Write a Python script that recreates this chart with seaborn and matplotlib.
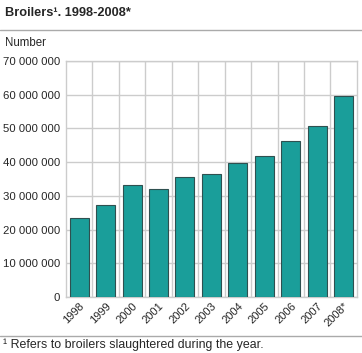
import matplotlib
matplotlib.use("Agg")
import matplotlib.pyplot as plt
import seaborn as sns
import pandas as pd
import numpy as np
from matplotlib.ticker import FuncFormatter, MultipleLocator

# data
years = ["1998", "1999", "2000", "2001", "2002", "2003", "2004", "2005", "2006", "2007", "2008*"]
broilers = [23.4, 27.4, 33.2, 31.9, 35.6, 36.6, 39.8, 41.8, 46.4, 50.7, 59.6]  # millions

df = pd.DataFrame({"year": years, "value": [v * 1e6 for v in broilers]})

sns.set_style("white")
plt.rcParams["font.family"] = ["Liberation Sans", "DejaVu Sans"]

fig = plt.figure(figsize=(3.62, 3.53), dpi=100)
ax = fig.add_axes([0.182, 0.159, 0.804, 0.668])

sns.barplot(data=df, x="year", y="value", color="#1a9e9a", saturation=1,
            edgecolor="#2f5050", linewidth=0.8, width=0.72, ax=ax, zorder=3)

ax.set_ylim(0, 70e6)
ax.set_xlim(-0.5, len(years) - 0.5)
ax.yaxis.set_major_locator(MultipleLocator(10e6))
ax.yaxis.set_major_formatter(FuncFormatter(lambda v, p: f"{int(v):,}".replace(",", " ")))
ax.set_xticks(range(len(years)))
ax.set_xticklabels(years, rotation=45, ha="right", rotation_mode="anchor", fontsize=8)
ax.tick_params(axis="y", labelsize=8.2, length=0, pad=4)
ax.tick_params(axis="x", length=0, pad=3)
ax.set_xticks(np.arange(0.5, len(years) - 0.5, 1), minor=True)
ax.grid(axis="y", which="major", color="#cccccc", linewidth=1, zorder=0)
ax.grid(axis="x", which="minor", color="#cccccc", linewidth=1, zorder=0)
ax.tick_params(axis="x", which="minor", length=0)
for s in ax.spines.values():
    s.set_color("#cccccc")
    s.set_linewidth(1)
ax.set_xlabel("")
ax.set_ylabel("")

fig.text(0.014, 0.963, "Broilers¹. 1998-2008*", fontsize=9.2, fontweight="bold",
         va="center", ha="left")
fig.add_artist(plt.Line2D([0, 1], [0.915, 0.915], color="#aaaaaa", linewidth=1))
fig.text(0.014, 0.878, "Number", fontsize=8.3, va="center", ha="left")
fig.add_artist(plt.Line2D([0, 1], [0.048, 0.048], color="#aaaaaa", linewidth=1))
fig.text(0.008, 0.022, "¹ Refers to broilers slaughtered during the year.",
         fontsize=8.9, va="center", ha="left")

fig.savefig("out.png", dpi=100)
